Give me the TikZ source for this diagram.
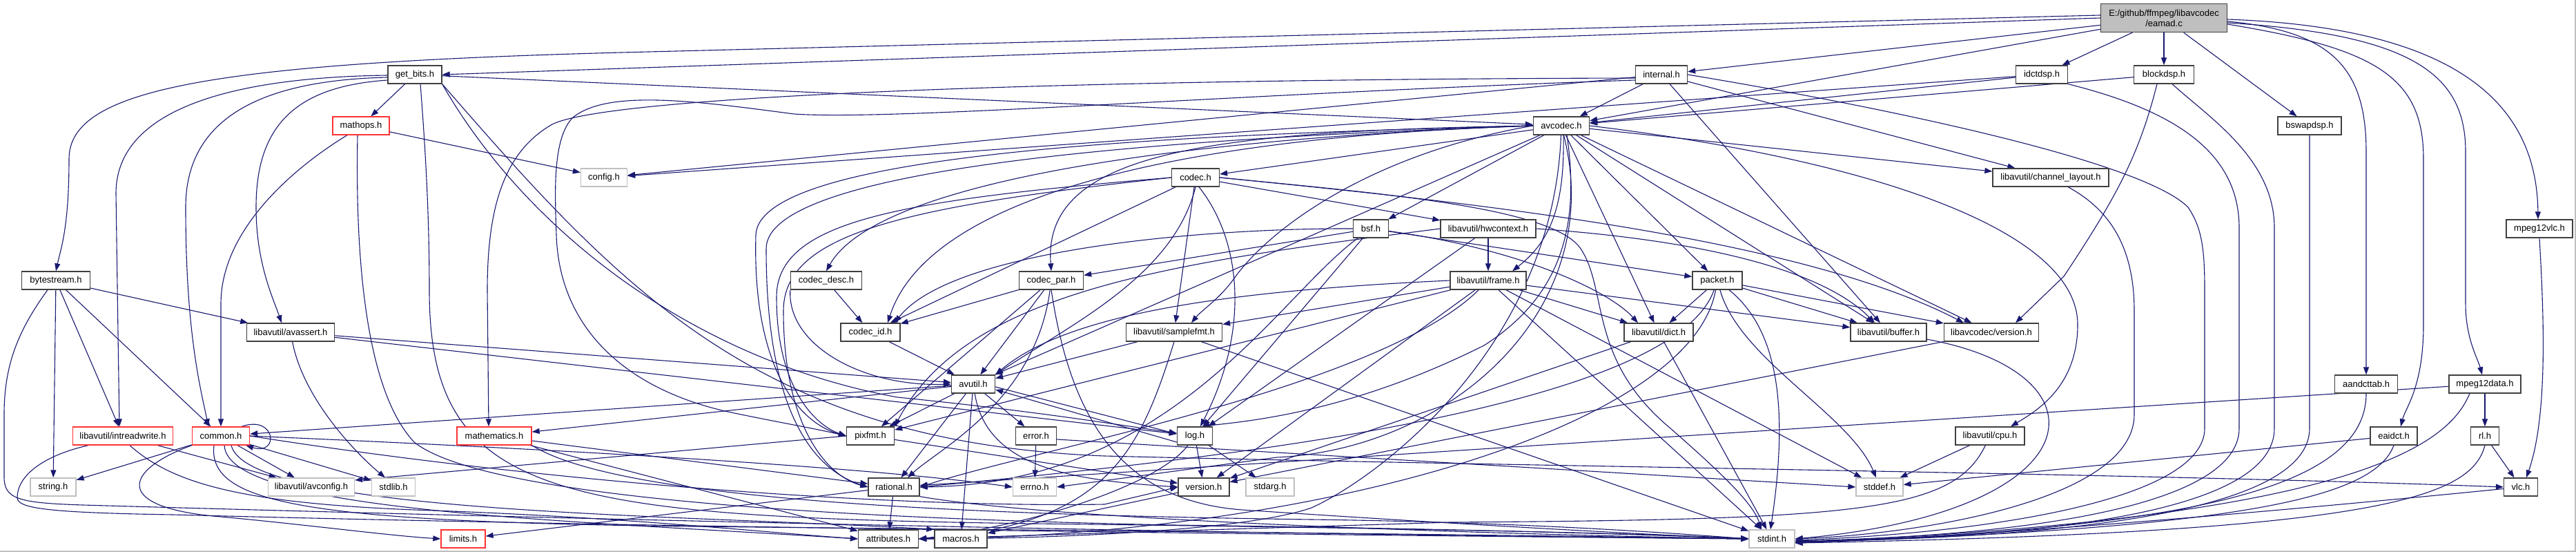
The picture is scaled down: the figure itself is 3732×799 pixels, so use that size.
\documentclass[tikz,border=0pt]{standalone}
\usepackage{fontspec}
\setmainfont{Liberation Sans}
\usetikzlibrary{arrows.meta}
\pgfdeclarelayer{bgl}
\pgfsetlayers{bgl,main}
\definecolor{edgec}{HTML}{191970}
\definecolor{nodeb}{HTML}{404040}
\definecolor{greyb}{HTML}{BFBFBF}
\definecolor{redb}{HTML}{FF3333}
\tikzset{
 nb/.style={draw=nodeb, fill=white, line width=1.3pt, minimum height=26pt, inner sep=0pt, font=\fontsize{13}{15}\selectfont},
 nr/.style={nb, draw=redb},
 ng/.style={nb, draw=greyb},
 rootbox/.style={nb, fill=greyb, minimum height=41pt, align=center},
 ed/.style={draw=edgec, line width=1.1pt, -{Triangle[length=11pt,width=8pt]}},
}
\begin{document}
\begin{tikzpicture}[x=1pt,y=-1pt]
\useasboundingbox (0,0) rectangle (3732,799);
% nodes
\node[rootbox, minimum width=183pt] (root) at (3135,26) {E:/github/ffmpeg/libavcodec\\/eamad.c};
\node[nb, minimum width=78pt] (getbits) at (601,108) {get\_bits.h};
\node[nb, minimum width=75pt] (internal) at (2407,108) {internal.h};
\node[nb, minimum width=75pt] (idctdsp) at (2958,108) {idctdsp.h};
\node[nb, minimum width=87pt] (blockdsp) at (3135,108) {blockdsp.h};
\node[nr, minimum width=82pt] (mathops) at (523,182) {mathops.h};
\node[nb, minimum width=81pt] (avcodec) at (2262,182) {avcodec.h};
\node[nb, minimum width=92pt] (bswapdsp) at (3346,182) {bswapdsp.h};
\node[ng, minimum width=67pt] (config) at (875,257) {config.h};
\node[nb, minimum width=69pt] (codec) at (1732,257) {codec.h};
\node[nb, minimum width=168pt] (chlayout) at (2971,257) {libavutil/channel\_layout.h};
\node[nb, minimum width=51pt] (bsf) at (1986,331) {bsf.h};
\node[nb, minimum width=138pt] (hwctx) at (2156,331) {libavutil/hwcontext.h};
\node[nb, minimum width=96pt] (mpegvlc) at (3679,331) {mpeg12vlc.h};
\node[nb, minimum width=99pt] (bytestream) at (81,406) {bytestream.h};
\node[nb, minimum width=103pt] (codecdesc) at (1197,406) {codec\_desc.h};
\node[nb, minimum width=93pt] (codecpar) at (1523,406) {codec\_par.h};
\node[nb, minimum width=110pt] (frame) at (2156,406) {libavutil/frame.h};
\node[nb, minimum width=72pt] (packet) at (2488,406) {packet.h};
\node[nb, minimum width=127pt] (avassert) at (421,481) {libavutil/avassert.h};
\node[nb, minimum width=86pt] (codecid) at (1261,481) {codec\_id.h};
\node[nb, minimum width=139pt] (samplefmt) at (1701,481) {libavutil/samplefmt.h};
\node[nb, minimum width=100pt] (dict) at (2403,481) {libavutil/dict.h};
\node[nb, minimum width=110pt] (buffer) at (2736,481) {libavutil/buffer.h};
\node[nb, minimum width=137pt] (lavcver) at (2885,481) {libavcodec/version.h};
\node[nb, minimum width=63pt] (avutil) at (1410,556) {avutil.h};
\node[nb, minimum width=91pt] (aandcttab) at (3428,556) {aandcttab.h};
\node[nb, minimum width=104pt] (mpegdata) at (3600,556) {mpeg12data.h};
\node[nr, minimum width=145pt] (intrw) at (178,631) {libavutil/intreadwrite.h};
\node[nr, minimum width=83pt] (common) at (320,631) {common.h};
\node[nr, minimum width=108pt] (mathematics) at (716,631) {mathematics.h};
\node[nb, minimum width=69pt] (pixfmt) at (1261,631) {pixfmt.h};
\node[nb, minimum width=59pt] (errorh) at (1501,631) {error.h};
\node[nb, minimum width=51pt] (logh) at (1731,631) {log.h};
\node[nb, minimum width=100pt] (cpu) at (2883,631) {libavutil/cpu.h};
\node[nb, minimum width=68pt] (eaidct) at (3468,631) {eaidct.h};
\node[nb, minimum width=41pt] (rl) at (3600,631) {rl.h};
\node[ng, minimum width=66pt] (stringh) at (77,705) {string.h};
\node[ng, minimum width=125pt] (avconfig) at (451,705) {libavutil/avconfig.h};
\node[ng, minimum width=63pt] (stdlib) at (570,705) {stdlib.h};
\node[nb, minimum width=74pt] (rational) at (1295,705) {rational.h};
\node[ng, minimum width=63pt] (errno) at (1499,705) {errno.h};
\node[nb, minimum width=74pt] (version) at (1744,705) {version.h};
\node[ng, minimum width=70pt] (stdarg) at (1840,705) {stdarg.h};
\node[ng, minimum width=68pt] (stddef) at (2723,705) {stddef.h};
\node[nb, minimum width=49pt] (vlc) at (3652,705) {vlc.h};
\node[nr, minimum width=64pt] (limits) at (671,780) {limits.h};
\node[nb, minimum width=87pt] (attributes) at (1287,780) {attributes.h};
\node[nb, minimum width=76pt] (macros) at (1392,780) {macros.h};
\node[ng, minimum width=66pt] (stdint) at (2567,780) {stdint.h};

\begin{pgfonlayer}{bgl}
\fill[white] (0,0) rectangle (3732,799);
\draw[greyb, line width=1.5pt] (0,798) -- (3731,798) -- (3731,0);
% root
\draw[ed] (root.west) -- (getbits.east);
\draw[ed] ([yshift=4pt]root.west) -- (900,76) .. controls (300,92) and (100,130) .. (100,230) .. controls (100,330) and (88,360) .. (bytestream.north);
\draw[ed] (root) -- (internal);
\draw[ed] (root) -- (avcodec);
\draw[ed] (root) -- (idctdsp);
\draw[ed] (root) -- (blockdsp);
\draw[ed] (root) -- (bswapdsp);
\draw[ed] ([yshift=-5pt]root.east) .. controls (3380,45) and (3428,100) .. (3428,220) -- (aandcttab.north);
\draw[ed] ([yshift=-9pt]root.east) .. controls (3440,70) and (3511,110) .. (3511,230) -- (3511,470) .. controls (3511,560) and (3485,590) .. ([xshift=10pt]eaidct.north);
\draw[ed] ([yshift=-7pt]root.east) .. controls (3500,50) and (3572,110) .. (3572,220) -- (3572,440) .. controls (3572,490) and (3590,520) .. ([xshift=-4pt]mpegdata.north);
\draw[ed] ([yshift=-2pt]root.east) .. controls (3560,40) and (3675,150) .. ([xshift=-2pt]mpegvlc.north);
% get_bits
\draw[ed] (getbits) -- (avcodec);
\draw[ed] (getbits) -- (mathops);
\draw[ed] ([yshift=-1pt]getbits.west) .. controls (330,112) and (168,160) .. (168,280) -- ([xshift=-5pt]intrw.north);
\draw[ed] ([yshift=-4pt]getbits.west) .. controls (380,116) and (269,170) .. (269,300) .. controls (269,480) and (290,560) .. ([xshift=-18pt]common.north);
\draw[ed] ([yshift=-8pt]getbits.west) .. controls (430,125) and (371,180) .. (371,300) .. controls (371,380) and (395,430) .. ([xshift=-13pt]avassert.north);
\draw[ed] ([xshift=8pt]getbits.south) .. controls (615,200) and (622,300) .. (622,420) .. controls (622,720) and (800,748) .. (1500,758) .. controls (2000,764) and (2400,772) .. (stdint.west);
\draw[ed] (getbits.south east) .. controls (760,330) and (1000,520) .. (1300,575) .. controls (1500,595) and (1620,615) .. ([yshift=4pt]logh.west);
\draw[ed] (getbits.south east) .. controls (900,420) and (1100,640) .. (1600,660) .. controls (2200,675) and (3100,685) .. (vlc.west);
% mathops
\draw[ed] (mathops) -- (config);
\draw[ed] ([xshift=-20pt]mathops.south) .. controls (430,240) and (320,330) .. (320,440) -- (common.north);
\draw[ed] ([xshift=-5pt]mathops.south) .. controls (515,350) and (525,560) .. (600,640) .. controls (700,720) and (1200,750) .. (1700,760) .. controls (2100,765) and (2400,774) .. (stdint.west);
% bytestream
\draw[ed] (bytestream) -- (stringh);
\draw[ed] (bytestream) -- (intrw);
\draw[ed] (bytestream) -- (common);
\draw[ed] (bytestream) -- (avassert);
\draw[ed] ([xshift=-12pt]bytestream.south) .. controls (25,480) and (6,530) .. (6,600) -- (6,690) .. controls (6,722) and (25,728) .. (120,731) .. controls (1200,762) and (2000,775) .. (stdint.west);
% internal
\draw[ed] (internal) -- (avcodec);
\draw[ed] (internal) -- (config);
\draw[ed] ([yshift=-5pt]internal.west) .. controls (1500,115) and (880,140) .. (800,180) .. controls (730,220) and (706,300) .. (706,420) -- ([xshift=-8pt]mathematics.north);
\draw[ed] ([yshift=-8pt]internal.west) .. controls (1800,135) and (1300,175) .. (1150,165) .. controls (1000,145) and (880,130) .. (830,170) .. controls (800,200) and (804,280) .. (806,340) .. controls (810,470) and (900,560) .. (1050,595) .. controls (1120,610) and (1180,620) .. (pixfmt.west);
\draw[ed] (internal) -- (buffer);
\draw[ed] (internal) -- (chlayout);
\draw[ed] (internal.east) .. controls (2700,150) and (3100,230) .. (3170,300) .. controls (3190,330) and (3194,360) .. (3194,420) -- (3194,620) .. controls (3194,720) and (2900,770) .. ([yshift=-2pt]stdint.east);
% idctdsp
\draw[ed] (idctdsp) -- (avcodec);
\draw[ed] (idctdsp) -- (config);
\draw[ed] (idctdsp.south east) .. controls (3150,160) and (3244,220) .. (3244,330) -- (3244,620) .. controls (3244,730) and (2950,775) .. ([yshift=-3pt]stdint.east);
% blockdsp
\draw[ed] (blockdsp) -- (avcodec);
\draw[ed] ([xshift=-10pt]blockdsp.south) .. controls (3100,220) and (3070,280) .. (2990,400) -- ([xshift=35pt]lavcver.north);
\draw[ed] ([xshift=12pt]blockdsp.south) .. controls (3200,170) and (3295,230) .. (3295,330) -- (3295,620) .. controls (3295,735) and (3000,777) .. ([yshift=-4pt]stdint.east);
% others on the right
\draw[ed] (bswapdsp.south) -- (3346,620) .. controls (3346,740) and (3000,778) .. ([yshift=-4pt]stdint.east);
\draw[ed] (aandcttab.south) .. controls (3428,700) and (3200,765) .. ([yshift=-5pt]stdint.east);
\draw[ed] (eaidct) -- (stddef);
\draw[ed] (eaidct.south) .. controls (3440,720) and (3250,765) .. ([yshift=-5pt]stdint.east);
\draw[ed] (mpegdata) -- (rational);
\draw[ed] (mpegdata) -- (rl);
\draw[ed] ([xshift=-22pt]mpegdata.south) .. controls (3548,640) and (3430,750) .. ([yshift=-5pt]stdint.east);
\draw[ed] (rl) -- (vlc);
\draw[ed] (rl.south) .. controls (3580,720) and (3450,770) .. ([yshift=-6pt]stdint.east);
\draw[ed] (vlc) .. controls (3300,740) and (2900,775) .. ([yshift=-6pt]stdint.east);
\draw[ed] (mpegvlc.south) .. controls (3685,450) and (3692,600) .. ([xshift=8pt]vlc.north);
% avcodec
\draw[ed] (avcodec) .. controls (2330,450) and (2100,650) .. (1850,662) -- (errno.east);
\draw[ed] (avcodec.west) .. controls (2000,220) and (1850,320) .. (1790,400) .. controls (1770,430) and (1740,450) .. ([xshift=25pt]samplefmt.north);
\draw[ed] (avcodec) .. controls (2250,500) and (2000,690) .. (1900,735) .. controls (1800,770) and (1500,780) .. (attributes.east);
\draw[ed] (avcodec) -- (avutil);
\draw[ed] (avcodec) -- (buffer);
\draw[ed] (avcodec.east) .. controls (2700,230) and (3010,330) .. (3010,470) .. controls (3010,560) and (2950,595) .. ([xshift=30pt]cpu.north);
\draw[ed] (avcodec) -- (chlayout);
\draw[ed] (avcodec) -- (dict);
\draw[ed] ([xshift=3pt]avcodec.south) .. controls (2267,300) and (2245,350) .. ([xshift=35pt]frame.north);
\draw[ed] ([xshift=8pt]avcodec.south) .. controls (2290,330) and (2260,430) .. (2150,500) .. controls (1950,600) and (1800,610) .. ([xshift=10pt]logh.north);
\draw[ed] (avcodec.west) .. controls (1700,195) and (1100,220) .. (1095,340) .. controls (1090,520) and (1150,610) .. (pixfmt.west);
\draw[ed] (avcodec.west) .. controls (1700,200) and (1110,240) .. (1110,360) .. controls (1110,600) and (1180,680) .. (rational.west);
\draw[ed] (avcodec) -- (bsf);
\draw[ed] (avcodec) -- (codec);
\draw[ed] (avcodec.west) .. controls (1600,205) and (1260,280) .. (codecdesc.north);
\draw[ed] (avcodec.west) .. controls (1750,190) and (1510,220) .. (codecpar.north);
\draw[ed] (avcodec.west) .. controls (1650,200) and (1340,300) .. ([xshift=25pt]codecid.north);
\draw[ed] (avcodec) -- (packet);
\draw[ed] (avcodec) -- (lavcver);
% codec
\draw[ed] (codec.east) .. controls (2000,280) and (2250,300) .. (2290,360) .. controls (2330,420) and (2300,520) .. (2420,620) .. controls (2500,690) and (2540,730) .. ([xshift=-15pt]stdint.north);
\draw[ed] (codec.south) .. controls (1700,400) and (1550,470) .. (avutil.north east);
\draw[ed] (codec) -- (hwctx);
\draw[ed] ([xshift=5pt]codec.south) .. controls (1800,350) and (1810,480) .. ([xshift=8pt]logh.north);
\draw[ed] (codec.west) .. controls (1300,290) and (1125,320) .. (1125,430) .. controls (1125,560) and (1180,615) .. (pixfmt.west);
\draw[ed] (codec.west) .. controls (1300,300) and (1135,340) .. (1135,450) .. controls (1135,620) and (1200,690) .. (rational.west);
\draw[ed] (codec) -- (samplefmt);
\draw[ed] (codec) -- (codecid);
\draw[ed] (codec.east) .. controls (2100,290) and (2600,340) .. ([xshift=-40pt]lavcver.north);
% codec_desc, codec_par
\draw[ed] (codecdesc.south west) .. controls (1140,500) and (1250,560) .. (avutil.west);
\draw[ed] (codecdesc) -- (codecid);
\draw[ed] (codecpar.south) .. controls (1550,600) and (1620,725) .. (1800,738) .. controls (2100,758) and (2350,772) .. (stdint.west);
\draw[ed] (codecpar) -- (avutil);
\draw[ed] (codecpar) .. controls (1500,580) and (1360,650) .. ([xshift=20pt]rational.north);
\draw[ed] (codecpar) -- (pixfmt);
\draw[ed] (codecpar) -- (codecid);
% bsf
\draw[ed] (bsf) .. controls (2200,360) and (2330,420) .. ([xshift=-30pt]dict.north);
\draw[ed] (bsf) -- (logh);
\draw[ed] (bsf) .. controls (1850,430) and (1700,700) .. (rational.east);
\draw[ed] (bsf.west) .. controls (1750,330) and (1380,360) .. ([xshift=35pt]codecid.north);
\draw[ed] (bsf) -- (codecpar);
\draw[ed] (bsf) -- (packet);
% packet
\draw[ed] (packet) .. controls (2520,520) and (2680,600) .. ([xshift=-5pt]stddef.north);
\draw[ed] (packet) .. controls (2580,480) and (2590,600) .. ([xshift=-2pt]stdint.north);
\draw[ed] (packet) .. controls (2450,620) and (1900,775) .. (attributes.east);
\draw[ed] (packet) -- (buffer);
\draw[ed] (packet) -- (dict);
\draw[ed] (packet) .. controls (2420,600) and (1700,670) .. (rational.east);
\draw[ed] (packet) -- (lavcver);
\draw[ed] (codecid) -- (avutil);
% frame
\draw[ed] (frame) -- (stddef);
\draw[ed] (frame) -- (stdint);
\draw[ed] (frame.west) .. controls (1800,420) and (1550,450) .. (avutil.north east);
\draw[ed] (frame) -- (buffer);
\draw[ed] (frame) -- (dict);
\draw[ed] (frame) .. controls (2000,560) and (1500,650) .. (rational.east);
\draw[ed] (frame) -- (samplefmt);
\draw[ed] (frame) -- (pixfmt);
\draw[ed] (frame) -- (version);
% hwcontext
\draw[ed] (hwctx.east) .. controls (2500,350) and (2650,400) .. ([xshift=-20pt]buffer.north);
\draw[ed] (hwctx) -- (frame);
\draw[ed] (hwctx) -- (logh);
\draw[ed] (hwctx.west) .. controls (1700,380) and (1400,420) .. (pixfmt.north east);
% samplefmt, dict, buffer, version
\draw[ed] (samplefmt) -- (stdint);
\draw[ed] (samplefmt) -- (avutil);
\draw[ed] (samplefmt.south) .. controls (1650,660) and (1600,760) .. (attributes.east);
\draw[ed] (dict) -- (stdint);
\draw[ed] (dict) -- (version);
\draw[ed] (buffer) .. controls (3060,540) and (3040,740) .. (stdint.east);
\draw[ed] (lavcver) -- (version);
\draw[ed] (chlayout) .. controls (3050,300) and (3092,350) .. (3092,450) -- (3092,600) .. controls (3092,720) and (2800,772) .. (stdint.east);
\draw[ed] (cpu) -- (stddef);
\draw[ed] (cpu) .. controls (2830,740) and (2700,752) .. (2100,756) -- (attributes.east);
% avutil
\draw[ed] (avutil) -- (common);
\draw[ed] (avutil) -- (errorh);
\draw[ed] (avutil) -- (rational);
\draw[ed] (avutil) .. controls (1430,680) and (1560,695) .. (version.west);
\draw[ed] (avutil) -- (macros);
\draw[ed] (avutil) -- (mathematics);
\draw[ed] ([yshift=-4pt]avutil.east) -- ([yshift=3pt]logh.west);
\draw[ed] ([yshift=-9pt]logh.west) -- ([yshift=-8pt]avutil.east);
\draw[ed] (avutil) -- (pixfmt);
% log, error, rational, version, pixfmt
\draw[ed] (logh) -- (stdarg);
\draw[ed] (logh) .. controls (1680,700) and (1500,760) .. (attributes.east);
\draw[ed] (logh) -- (version);
\draw[ed] (errorh) -- (errno);
\draw[ed] ([yshift=-5pt]errorh.east) -- (stddef.west);
\draw[ed] (rational.south east) .. controls (1500,748) and (2000,770) .. (stdint.west);
\draw[ed] (rational) -- (limits);
\draw[ed] (rational) -- (attributes);
\draw[ed] (version) -- (macros);
\draw[ed] (pixfmt.west) -- ([yshift=10pt]avconfig.east);
\draw[ed] (pixfmt) -- (version);
% mathematics
\draw[ed] (mathematics.south east) .. controls (900,725) and (1400,745) .. (1900,752) .. controls (2200,756) and (2400,770) .. (stdint.west);
\draw[ed] (mathematics) -- (attributes);
\draw[ed] (mathematics) -- (rational);
% common
\draw[ed] (common.east) .. controls (800,650) and (1250,675) .. (errno.west);
\draw[ed] (common.south west) .. controls (180,680) and (160,735) .. (320,748) .. controls (450,760) and (560,775) .. (limits.west);
\draw[ed] ([xshift=-10pt]common.south) .. controls (300,730) and (450,755) .. (1000,762) .. controls (1800,770) and (2300,776) .. (stdint.west);
\draw[ed] (common) -- (stdlib);
\draw[ed] (common) -- (stringh);
\draw[ed] ([xshift=5pt]common.south) .. controls (330,740) and (800,752) .. (attributes.west);
\draw[ed] ([xshift=15pt]common.south) .. controls (360,745) and (1000,745) .. (macros.north west);
\draw[ed] (common.east) .. controls (800,700) and (1300,735) .. (1600,730) -- (version.west);
\draw[ed] (common) -- (avconfig);
\draw[ed] ([xshift=-12pt]common.north east) .. controls (400,600) and (405,660) .. ([xshift=-6pt]common.south east);
% intreadwrite
\draw[ed] (intrw) -- (avconfig);
\draw[ed] ([xshift=10pt]intrw.south) .. controls (250,700) and (350,728) .. (600,738) .. controls (900,748) and (1100,770) .. (attributes.west);
\draw[ed] ([xshift=-50pt]intrw.south) .. controls (60,660) and (25,690) .. (25,720) .. controls (25,735) and (60,742) .. (250,745) .. controls (1000,765) and (2000,775) .. (stdint.west);
% avassert
\draw[ed] (avassert) .. controls (440,580) and (520,660) .. ([xshift=-12pt]stdlib.north);
\draw[ed] (avassert) -- (avutil);
\draw[ed] (avassert) -- (logh);
\end{pgfonlayer}
\end{tikzpicture}
\end{document}
